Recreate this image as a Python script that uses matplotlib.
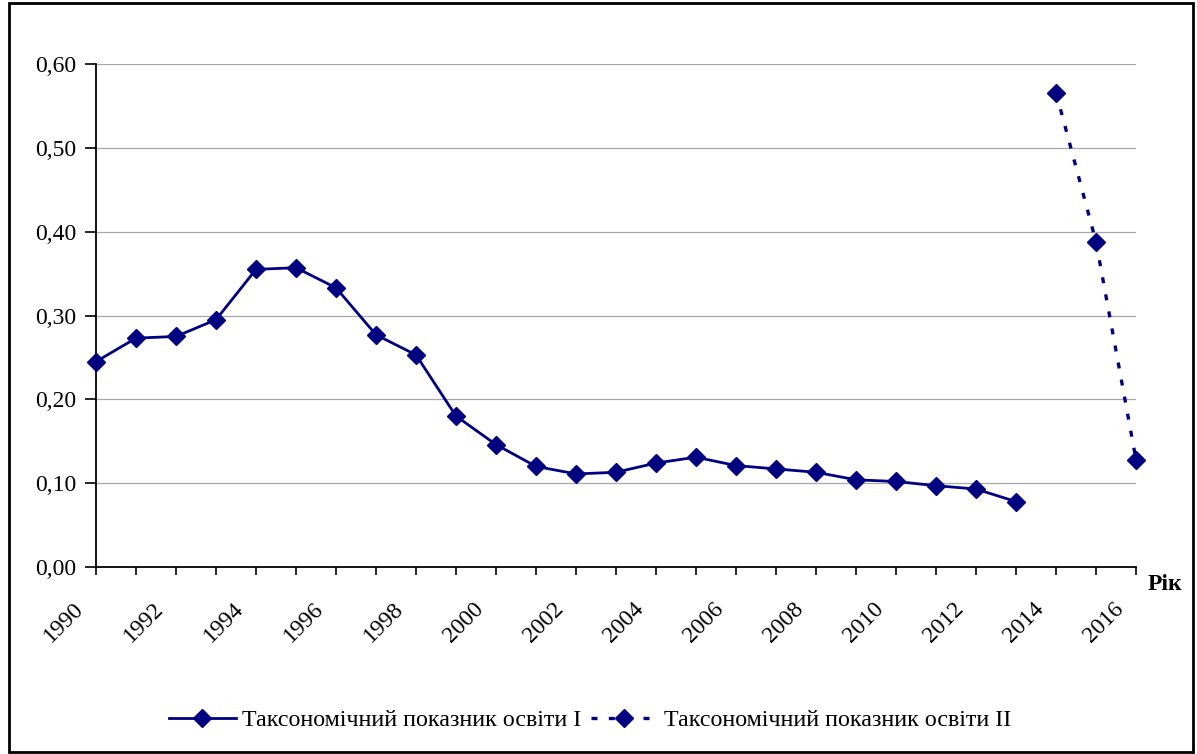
import matplotlib.pyplot as plt
import matplotlib.transforms as mtransforms
from matplotlib.patches import Rectangle

# data
years = list(range(1990, 2017))
index_1 = [0.245, 0.273, 0.275, 0.295, 0.355, 0.357, 0.333, 0.277, 0.253, 0.180,
           0.146, 0.120, 0.111, 0.113, 0.124, 0.131, 0.121, 0.117, 0.113, 0.104,
           0.102, 0.097, 0.093, 0.078]
index_2 = [0.566, 0.388, 0.128]
label_1 = "Таксономічний показник освіти І"
label_2 = "Таксономічний показник освіти ІІ"
yticks = [0.0, 0.1, 0.2, 0.3, 0.4, 0.5, 0.6]

plt.rcParams['font.family'] = ['Liberation Serif', 'DejaVu Serif']
navy = '#000080'

fig = plt.figure(figsize=(11.97, 7.54), dpi=100)
ax = fig.add_axes([96/1197, 1-567/754, 1040/1197, 503/754])

x1 = list(range(len(index_1)))
x2 = list(range(len(index_1), len(index_1)+len(index_2)))
ax.plot(x1, index_1, color=navy, lw=2, marker='D', ms=9, clip_on=False,
        zorder=3, label=label_1)
ax.plot(x2, index_2, color=navy, lw=2.4, ls=(0, (1.8, 3.4)), dash_capstyle='butt',
        marker='D', ms=9, clip_on=False, zorder=3, label=label_2)

ax.set_xlim(0, len(years)-1)
ax.set_ylim(0, 0.6)
ax.set_yticks(yticks)
ax.set_yticklabels([f"{v:.2f}".replace('.', ',') for v in yticks], fontsize=17)
ax.set_xticks(range(len(years)))
ax.set_xticklabels([])

# year labels, every second year, rotated like the original
trans = mtransforms.blended_transform_factory(ax.transData, ax.transAxes)
trans = trans + mtransforms.ScaledTranslation(-32/100, -55/100, fig.dpi_scale_trans)
for i, y in enumerate(years):
    if (y - years[0]) % 2 == 0:
        ax.text(i, 0, str(y), transform=trans, rotation=45, ha='center', va='center',
                rotation_mode='anchor', fontsize=17)

ax.tick_params(axis='y', length=8, width=1.2, pad=6)
ax.tick_params(axis='x', length=6, width=1.2)
ax.grid(axis='y', color='#a8a8a8', lw=0.9)
ax.set_axisbelow(True)
for s in ['top', 'right']:
    ax.spines[s].set_visible(False)
for s in ['left', 'bottom']:
    ax.spines[s].set_linewidth(1.3)

fig.text(1148/1197, 1-584/754, 'Рік', fontsize=17, fontweight='bold', va='center')

ax.legend(loc='center', bbox_to_anchor=(590/1197, 1-720/754), bbox_transform=fig.transFigure,
          ncol=2, frameon=False, fontsize=17.3, handlelength=2.8, columnspacing=0.4,
          handletextpad=0.25)

fig.patches.append(Rectangle((9/1197, 2/754), 1184/1197, 749/754, transform=fig.transFigure,
                             fill=False, edgecolor='black', lw=2))

fig.savefig('out.png', dpi=100)
